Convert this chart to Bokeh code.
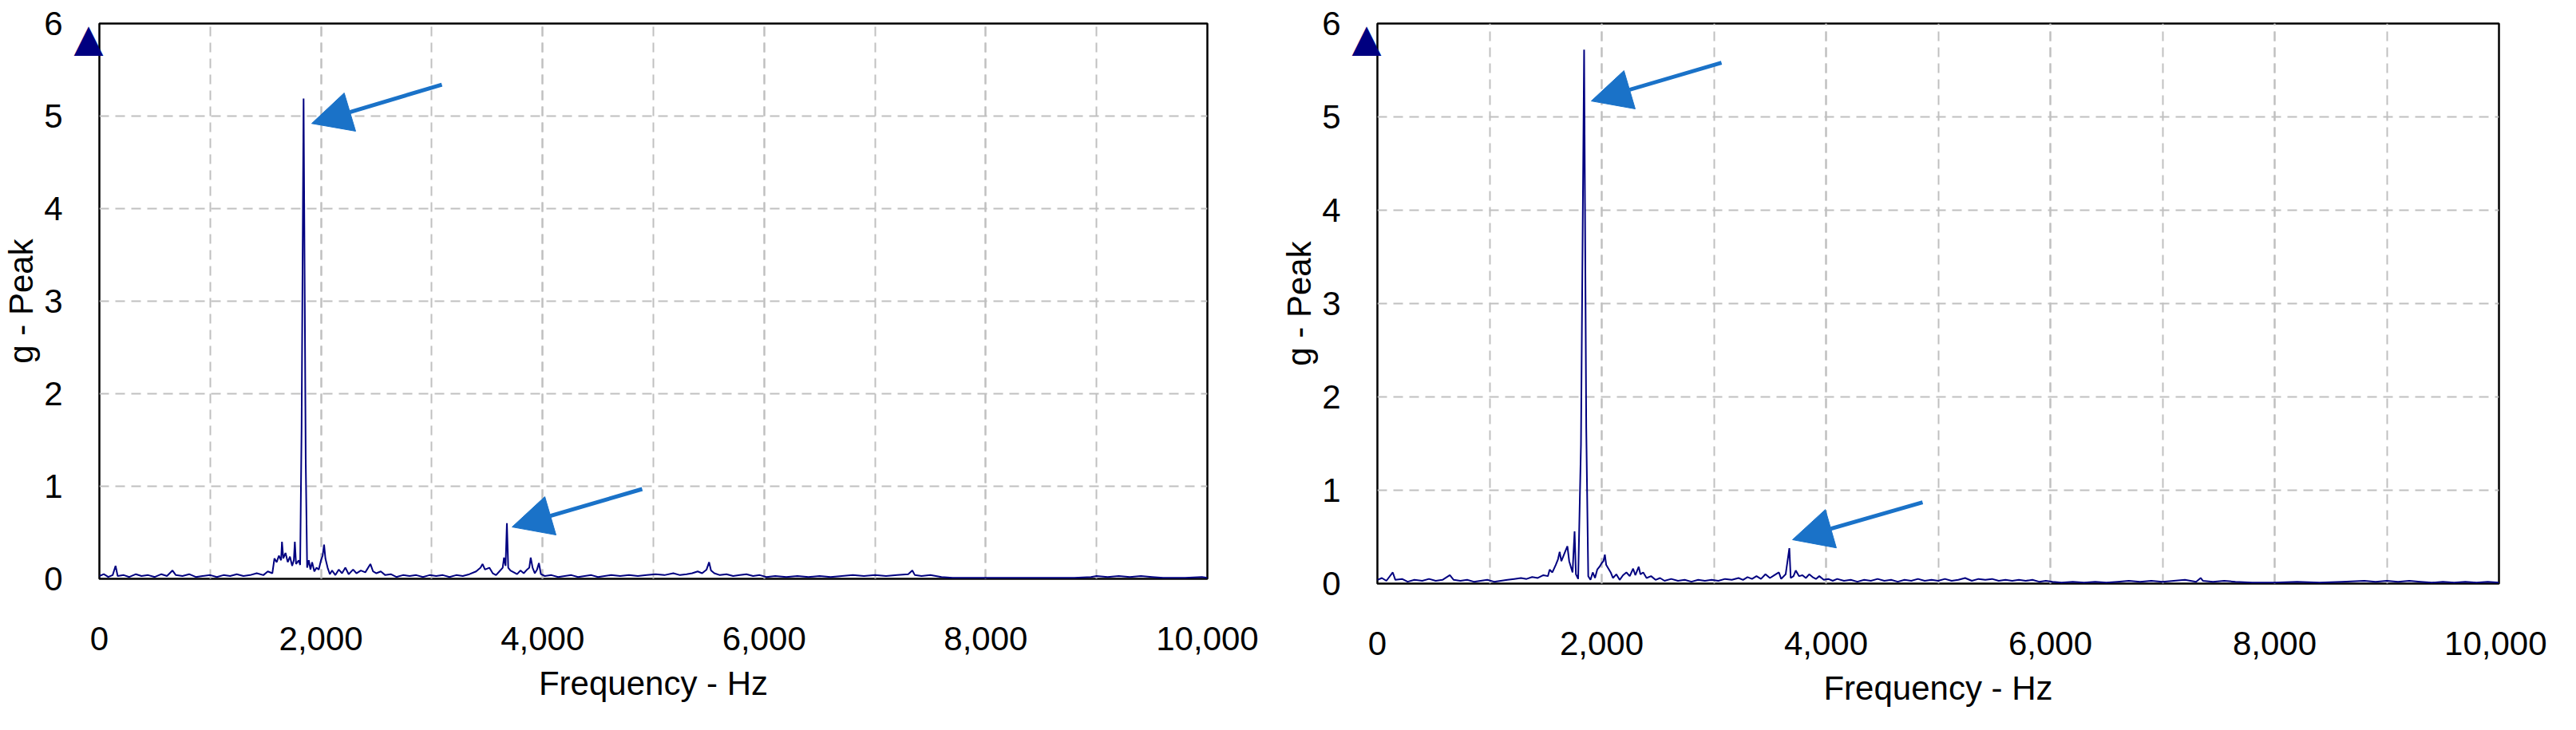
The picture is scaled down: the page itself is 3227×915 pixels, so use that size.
from bokeh.plotting import figure
from bokeh.layouts import row
from bokeh.models import (Arrow, NormalHead, SingleIntervalTicker, FixedTicker,
                          NumeralTickFormatter, Range1d, LinearAxis)
from bokeh.embed import file_html
from bokeh.resources import INLINE

# ---------------- data ----------------
X_LABEL = "Frequency - Hz"
Y_LABEL = "g - Peak"

LEFT_FREQ = [0, 40, 80, 120, 146, 165, 220, 270, 330, 380, 440, 500, 560, 610, 660, 690,
             750, 810, 870, 930, 1000, 1060, 1120, 1180, 1240, 1300, 1360, 1420, 1480, 1520,
             1561, 1580, 1600, 1620, 1640, 1648, 1660, 1680, 1700, 1720, 1740, 1755, 1764,
             1775, 1800, 1812, 1825, 1843, 1862, 1875, 1890, 1905, 1920, 1940, 1960, 1980,
             2000, 2015, 2028, 2040, 2060, 2080, 2100, 2130, 2160, 2190, 2220, 2250, 2290,
             2320, 2360, 2400, 2446, 2470, 2500, 2540, 2580, 2630, 2680, 2740, 2800, 2860,
             2920, 2980, 3040, 3100, 3160, 3220, 3280, 3340, 3400, 3440, 3458, 3480, 3520,
             3550, 3580, 3610, 3640, 3652, 3666, 3678, 3690, 3710, 3740, 3770, 3800, 3830,
             3860, 3880, 3893, 3910, 3930, 3950, 3967, 3985, 4020, 4080, 4140, 4200, 4260,
             4320, 4380, 4440, 4500, 4560, 4620, 4700, 4780, 4860, 4940, 5020, 5100, 5180,
             5240, 5300, 5350, 5400, 5440, 5480, 5503, 5520, 5550, 5600, 5660, 5720, 5780,
             5840, 5900, 5960, 6020, 6100, 6200, 6300, 6400, 6500, 6600, 6700, 6800, 6900,
             7000, 7100, 7200, 7300, 7337, 7360, 7420, 7500, 7600, 7700, 7800, 8000, 8200,
             8400, 8600, 8800, 8950, 9000, 9100, 9200, 9300, 9400, 9500, 9600, 9800, 9950,
             10000]
LEFT_AMP = [0.03, 0.05, 0.02, 0.04, 0.14, 0.03, 0.04, 0.02, 0.05, 0.03, 0.04, 0.02, 0.05, 0.03,
            0.09, 0.04, 0.03, 0.05, 0.02, 0.03, 0.04, 0.02, 0.04, 0.03, 0.05, 0.03, 0.04, 0.06,
            0.04, 0.08, 0.06, 0.22, 0.18, 0.25, 0.20, 0.40, 0.22, 0.28, 0.18, 0.24, 0.14, 0.20,
            0.40, 0.16, 0.20, 0.15, 1.63, 5.19, 1.30, 0.12, 0.20, 0.10, 0.18, 0.08, 0.12, 0.10,
            0.20, 0.25, 0.37, 0.22, 0.12, 0.05, 0.09, 0.04, 0.10, 0.06, 0.12, 0.05, 0.10, 0.06,
            0.09, 0.07, 0.16, 0.08, 0.06, 0.08, 0.04, 0.05, 0.02, 0.04, 0.03, 0.04, 0.02, 0.04,
            0.03, 0.04, 0.02, 0.04, 0.03, 0.05, 0.08, 0.12, 0.16, 0.10, 0.12, 0.06, 0.04, 0.08,
            0.12, 0.23, 0.14, 0.60, 0.12, 0.09, 0.07, 0.05, 0.09, 0.06, 0.10, 0.12, 0.23, 0.12,
            0.06, 0.10, 0.17, 0.05, 0.03, 0.04, 0.02, 0.03, 0.04, 0.02, 0.03, 0.04, 0.02, 0.03,
            0.04, 0.03, 0.04, 0.03, 0.04, 0.05, 0.04, 0.06, 0.04, 0.05, 0.06, 0.08, 0.06, 0.10,
            0.18, 0.09, 0.06, 0.04, 0.05, 0.03, 0.04, 0.05, 0.03, 0.04, 0.02, 0.03, 0.02, 0.03,
            0.02, 0.03, 0.02, 0.03, 0.04, 0.03, 0.04, 0.03, 0.04, 0.05, 0.09, 0.04, 0.03, 0.04,
            0.02, 0.01, 0.01, 0.01, 0.01, 0.01, 0.01, 0.01, 0.02, 0.03, 0.02, 0.03, 0.02, 0.03,
            0.02, 0.01, 0.01, 0.02, 0.01]

RIGHT_FREQ = [0, 40, 80, 137, 160, 220, 270, 330, 400, 460, 520, 580, 646, 680, 740, 800, 860,
              920, 980, 1040, 1100, 1160, 1220, 1280, 1330, 1380, 1430, 1480, 1520, 1536, 1560,
              1590, 1610, 1625, 1640, 1660, 1680, 1694, 1710, 1725, 1740, 1758, 1770, 1790,
              1815, 1843, 1862, 1880, 1900, 1920, 1940, 1960, 1980, 2000, 2015, 2028, 2040,
              2060, 2080, 2100, 2130, 2160, 2190, 2220, 2250, 2280, 2300, 2330, 2345, 2370,
              2400, 2440, 2480, 2520, 2560, 2620, 2680, 2740, 2800, 2860, 2920, 2980, 3040,
              3100, 3160, 3220, 3260, 3300, 3340, 3380, 3420, 3460, 3500, 3540, 3580, 3600,
              3640, 3673, 3685, 3710, 3730, 3760, 3790, 3820, 3850, 3880, 3910, 3940, 3980,
              4020, 4060, 4100, 4160, 4220, 4280, 4340, 4400, 4460, 4520, 4580, 4640, 4700,
              4760, 4820, 4880, 4940, 5000, 5060, 5120, 5180, 5240, 5300, 5360, 5420, 5480,
              5540, 5600, 5660, 5720, 5780, 5840, 5900, 5960, 6020, 6100, 6200, 6300, 6400,
              6500, 6600, 6700, 6800, 6900, 7000, 7100, 7200, 7300, 7340, 7360, 7450, 7550,
              7650, 7800, 8000, 8200, 8400, 8600, 8800, 8900, 9000, 9100, 9200, 9300, 9400,
              9500, 9600, 9700, 9800, 9900, 10000]
RIGHT_AMP = [0.04, 0.06, 0.03, 0.12, 0.04, 0.05, 0.02, 0.04, 0.03, 0.05, 0.03, 0.04, 0.09, 0.04,
             0.03, 0.04, 0.02, 0.03, 0.04, 0.02, 0.03, 0.04, 0.05, 0.06, 0.05, 0.07, 0.06, 0.09,
             0.08, 0.15, 0.12, 0.20, 0.26, 0.34, 0.24, 0.30, 0.36, 0.40, 0.24, 0.18, 0.12, 0.56,
             0.10, 0.05, 1.49, 5.72, 1.67, 0.08, 0.04, 0.12, 0.06, 0.15, 0.18, 0.22, 0.24, 0.31,
             0.20, 0.16, 0.12, 0.06, 0.10, 0.04, 0.09, 0.12, 0.08, 0.16, 0.09, 0.18, 0.10, 0.12,
             0.06, 0.08, 0.04, 0.06, 0.03, 0.05, 0.03, 0.04, 0.02, 0.04, 0.03, 0.04, 0.03, 0.05,
             0.04, 0.06, 0.04, 0.07, 0.05, 0.08, 0.05, 0.10, 0.06, 0.09, 0.12, 0.05, 0.10, 0.38,
             0.06, 0.08, 0.14, 0.08, 0.09, 0.06, 0.10, 0.07, 0.05, 0.08, 0.04, 0.05, 0.03, 0.05,
             0.03, 0.04, 0.02, 0.04, 0.03, 0.05, 0.03, 0.04, 0.02, 0.04, 0.03, 0.05, 0.03, 0.04,
             0.03, 0.05, 0.03, 0.04, 0.06, 0.03, 0.05, 0.04, 0.05, 0.03, 0.04, 0.03, 0.04, 0.03,
             0.04, 0.02, 0.03, 0.02, 0.01, 0.02, 0.01, 0.02, 0.01, 0.02, 0.03, 0.02, 0.03, 0.02,
             0.03, 0.04, 0.02, 0.06, 0.03, 0.02, 0.03, 0.02, 0.01, 0.01, 0.02, 0.01, 0.02, 0.03,
             0.02, 0.03, 0.02, 0.03, 0.02, 0.01, 0.02, 0.01, 0.02, 0.01, 0.02, 0.01]

# annotation arrows: (tail x, tail y, tip x, tip y) in data units
LEFT_ARROWS = [(3091, 5.34, 1916, 4.92), (4899, 0.97, 3725, 0.56)]
RIGHT_ARROWS = [(3068, 5.58, 1907, 5.17), (4861, 0.87, 3701, 0.47)]

X_START, X_END, X_STEP = 0, 10000, 2000
Y_START, Y_END, Y_STEP = 0, 6, 1

# ---------------- styling ----------------
FONT = "Liberation Sans"
LINE_COLOR = "#000080"
ARROW_COLOR = "#1a72c8"
GRID_COLOR = "#c0c0c0"
MARKER_DROP = 0.15   # triangle marker sits just below the top of the y axis


def style_axis(ax):
    ax.axis_line_color = None
    ax.major_tick_line_color = None
    ax.minor_tick_line_color = None
    ax.major_tick_out = 0
    ax.major_tick_in = 0
    ax.minor_tick_out = 0
    ax.minor_tick_in = 0
    ax.major_label_text_font = FONT
    ax.major_label_text_font_size = "42px"
    ax.major_label_text_color = "black"
    ax.axis_label_text_font = FONT
    ax.axis_label_text_font_size = "42px"
    ax.axis_label_text_font_style = "normal"
    ax.axis_label_text_color = "black"


def make_panel(freq, amp, arrows, frame_w, frame_h, b_left, b_top, b_right, b_bottom):
    p = figure(frame_width=frame_w, frame_height=frame_h,
               min_border_left=b_left, min_border_top=b_top,
               min_border_right=b_right, min_border_bottom=b_bottom,
               x_range=Range1d(X_START, X_END), y_range=Range1d(Y_START, Y_END),
               output_backend="svg", toolbar_location=None)
    p.background_fill_color = "white"
    p.border_fill_color = "white"
    p.outline_line_color = "black"
    p.outline_line_width = 2.5

    p.line(freq, amp, line_color=LINE_COLOR, line_width=2)

    xt = SingleIntervalTicker(interval=X_STEP, num_minor_ticks=2)
    yt = SingleIntervalTicker(interval=Y_STEP, num_minor_ticks=0)

    # x axis
    xax = p.xaxis[0]
    style_axis(xax)
    xax.ticker = xt
    xax.formatter = NumeralTickFormatter(format="0,0")
    xax.axis_label = X_LABEL
    xax.major_label_standoff = 60
    xax.axis_label_standoff = 15

    # inner left axis: only carries the navy triangle marker
    mark_ax = p.yaxis[0]
    style_axis(mark_ax)
    marker_pos = Y_END - MARKER_DROP
    mark_ax.ticker = FixedTicker(ticks=[marker_pos])
    mark_ax.major_label_overrides = {marker_pos: "\u25B2"}
    mark_ax.major_label_text_font = "DejaVu Sans"
    mark_ax.major_label_text_font_size = "48px"
    mark_ax.major_label_text_color = LINE_COLOR
    mark_ax.major_label_standoff = -5

    # outer left axis: numeric labels + title
    yax = LinearAxis(ticker=yt)
    style_axis(yax)
    yax.axis_label = Y_LABEL
    yax.major_label_standoff = 11
    yax.axis_label_standoff = 2
    p.add_layout(yax, "left")

    p.xgrid.ticker = xt
    p.ygrid.ticker = yt
    for g in (p.xgrid[0], p.ygrid[0]):
        g.grid_line_color = GRID_COLOR
        g.grid_line_width = 2
        g.grid_line_dash = "12 8"
    p.xgrid.minor_grid_line_color = GRID_COLOR
    p.xgrid.minor_grid_line_width = 2
    p.xgrid.minor_grid_line_dash = "12 8"

    for (x0, y0, x1, y1) in arrows:
        p.add_layout(Arrow(end=NormalHead(size=50, fill_color=ARROW_COLOR,
                                          line_color=ARROW_COLOR, line_width=1),
                           x_start=x0, y_start=y0, x_end=x1, y_end=y1,
                           line_color=ARROW_COLOR, line_width=5))
    return p


left = make_panel(LEFT_FREQ, LEFT_AMP, LEFT_ARROWS, 1388, 696, 124, 29, 80, 180)
right = make_panel(RIGHT_FREQ, RIGHT_AMP, RIGHT_ARROWS, 1405, 702, 133, 28, 60, 175)

layout = row(left, right, spacing=0)
open("out.html", "w").write(file_html(layout, INLINE))
